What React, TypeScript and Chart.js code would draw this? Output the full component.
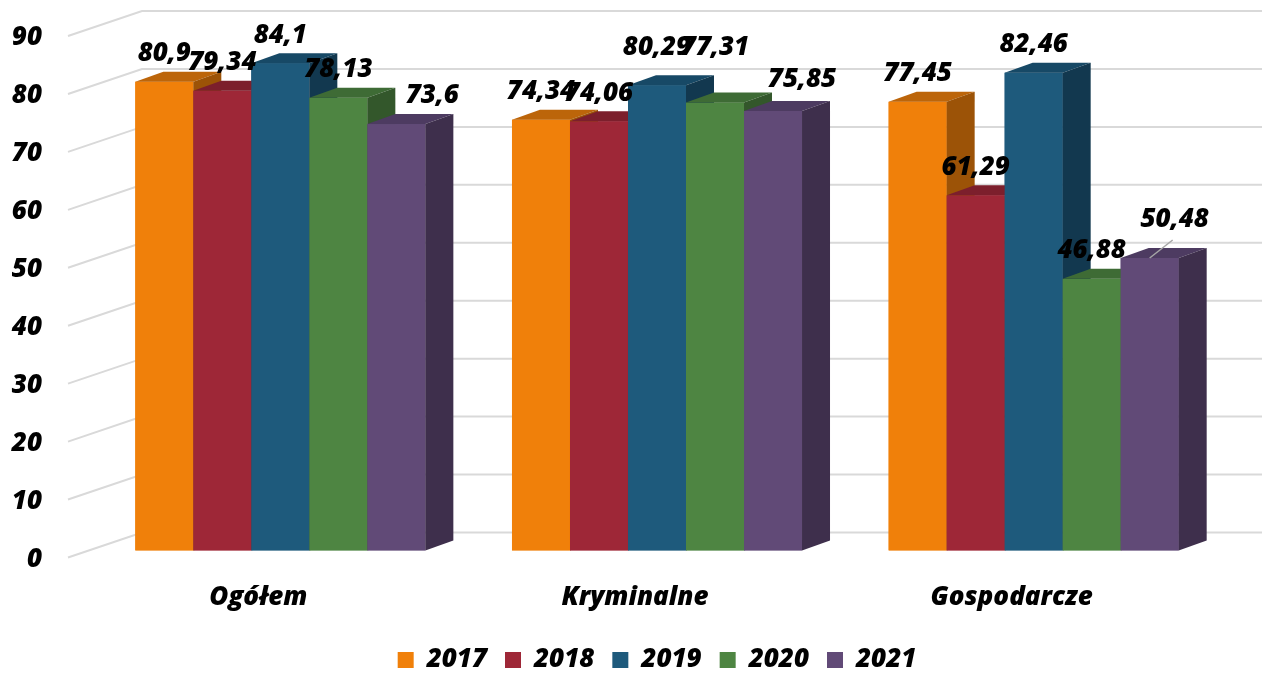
import React, { useEffect, useRef } from 'react';
import { Chart, registerables } from 'chart.js';

Chart.register(...registerables);

// ---- data ----
const categories = ['Ogółem', 'Kryminalne', 'Gospodarcze'];
const seriesNames = ['2017', '2018', '2019', '2020', '2021'];
const values2017 = [80.9, 74.34, 77.45];
const values2018 = [79.34, 74.06, 61.29];
const values2019 = [84.1, 80.29, 82.46];
const values2020 = [78.13, 77.31, 46.88];
const values2021 = [73.6, 75.85, 50.48];
const yTickValues = [0, 10, 20, 30, 40, 50, 60, 70, 80, 90];

// ---- style ----
const frontColors = ['#F0800A', '#9E2737', '#1E5A7C', '#4E8542', '#614A77'];
const topColors = ['#BC650A', '#7C1F2C', '#174966', '#3E6B35', '#4D3B61'];
const sideColors = ['#9C5307', '#6A1A25', '#12384F', '#33572B', '#3E2F4C'];
const FONT_FAMILY = '"Open Sans", Lato, sans-serif';
const FONT_SIZE = 26;
const FONT_WEIGHT = '800';
const DEPTH_X = 28;
const DEPTH_Y = -10;

// label nudges (style): keyed by "dataset-category"
const labelNudges: Record<string, { dx: number; dy: number; leader?: boolean }> = {
  '4-0': { dx: 36, dy: -28 },
  '4-1': { dx: 29, dy: -31 },
  '4-2': { dx: 25, dy: -38, leader: true },
  '3-1': { dx: 0, dy: -55 },
  '2-1': { dx: 0, dy: -38 },
};

const fmt = (v: number) => String(v).replace('.', ',');

const threeDPlugin = {
  id: 'threeD',
  beforeDatasetsDraw(chart: any) {
    const ctx = chart.ctx;
    const yScale = chart.scales.y;
    const area = chart.chartArea;
    ctx.save();
    ctx.strokeStyle = '#D9D9D9';
    ctx.lineWidth = 2;
    yTickValues.forEach((v) => {
      const py = yScale.getPixelForValue(v);
      ctx.beginPath();
      ctx.moveTo(area.left - 24, py + 7);
      ctx.lineTo(area.left + 50, py - 18);
      ctx.lineTo(chart.width - 3, py - 18);
      ctx.stroke();
    });
    ctx.restore();
  },
  afterDatasetsDraw(chart: any) {
    const ctx = chart.ctx;
    const n = chart.data.datasets.length;
    ctx.save();
    categories.forEach((_, j) => {
      for (let i = 0; i < n; i++) {
        const el = chart.getDatasetMeta(i).data[j];
        if (!el) continue;
        const { x, y, base, width } = el.getProps(['x', 'y', 'base', 'width'], true);
        const l = x - width / 2;
        const r = x + width / 2;
        ctx.fillStyle = frontColors[i];
        ctx.fillRect(l, y, width, base - y);
        ctx.fillStyle = topColors[i];
        ctx.beginPath();
        ctx.moveTo(l, y);
        ctx.lineTo(r, y);
        ctx.lineTo(r + DEPTH_X, y + DEPTH_Y);
        ctx.lineTo(l + DEPTH_X, y + DEPTH_Y);
        ctx.closePath();
        ctx.fill();
        ctx.fillStyle = sideColors[i];
        ctx.beginPath();
        ctx.moveTo(r, y);
        ctx.lineTo(r + DEPTH_X, y + DEPTH_Y);
        ctx.lineTo(r + DEPTH_X, base + DEPTH_Y);
        ctx.lineTo(r, base);
        ctx.closePath();
        ctx.fill();
      }
    });
    ctx.restore();
  },
  afterDraw(chart: any) {
    const ctx = chart.ctx;
    ctx.save();
    ctx.font = `italic ${FONT_WEIGHT} ${FONT_SIZE}px ${FONT_FAMILY}`;
    ctx.fillStyle = '#000000';
    ctx.textAlign = 'center';
    ctx.textBaseline = 'middle';
    chart.data.datasets.forEach((ds: any, i: number) => {
      const meta = chart.getDatasetMeta(i);
      meta.data.forEach((el: any, j: number) => {
        const { x, y } = el.getProps(['x', 'y'], true);
        const nudge = labelNudges[`${i}-${j}`] || { dx: 0, dy: -28 };
        const lx = x + nudge.dx;
        const ly = y + nudge.dy;
        if (nudge.leader) {
          ctx.strokeStyle = '#A6A6A6';
          ctx.lineWidth = 1.5;
          ctx.beginPath();
          ctx.moveTo(x, y);
          ctx.lineTo(lx - 2, ly + 20);
          ctx.stroke();
        }
        ctx.fillText(fmt(ds.data[j]), lx, ly);
      });
    });
    ctx.restore();
  },
};

export default function App() {
  const canvasRef = useRef<HTMLCanvasElement | null>(null);

  useEffect(() => {
    if (!canvasRef.current) return;
    const seriesValues = [values2017, values2018, values2019, values2020, values2021];
    const tickFont = { family: FONT_FAMILY, size: FONT_SIZE, weight: FONT_WEIGHT, style: 'italic' } as any;
    const chart = new Chart(canvasRef.current, {
      type: 'bar',
      data: {
        labels: categories,
        datasets: seriesNames.map((name, i) => ({
          label: name,
          data: seriesValues[i],
          backgroundColor: frontColors[i],
          borderWidth: 0,
          barPercentage: 1,
          categoryPercentage: 0.77,
        })),
      },
      options: {
        animation: false,
        responsive: true,
        maintainAspectRatio: false,
        layout: { padding: { top: 29, right: 43, bottom: -10, left: 0 } },
        plugins: {
          tooltip: { enabled: false },
          legend: {
            position: 'bottom',
            fullSize: false,
            labels: {
              boxWidth: 16,
              boxHeight: 16,
              padding: 18,
              color: '#000000',
              font: tickFont,
            },
          },
        },
        scales: {
          x: {
            grid: { display: false, drawTicks: false, tickLength: 0 },
            border: { display: false },
            ticks: {
              color: '#000000',
              padding: 31,
              labelOffset: -22,
              font: tickFont,
            },
            afterFit: (s: any) => {
              s.height = 78.5;
            },
          },
          y: {
            min: 0,
            max: 90,
            grid: { display: false, drawTicks: false, tickLength: 0 },
            border: { display: false },
            afterBuildTicks: (s: any) => {
              s.ticks = yTickValues.map((v) => ({ value: v }));
            },
            ticks: {
              color: '#000000',
              padding: 50,
              labelOffset: 9,
              font: tickFont,
            },
            afterFit: (s: any) => {
              s.width = 92;
              s.paddingTop = 10;
              s.paddingBottom = 10;
            },
          },
        },
      },
      plugins: [threeDPlugin],
    });
    return () => chart.destroy();
  }, []);

  return (
    <div style={{ position: 'absolute', left: 0, top: 0, width: 1265, height: 673, background: '#ffffff' }}>
      <canvas ref={canvasRef} />
    </div>
  );
}
